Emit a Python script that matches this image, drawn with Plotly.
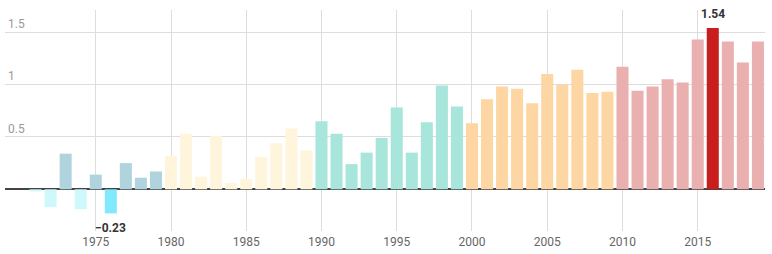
import plotly.graph_objects as go

years = list(range(1970, 2020))
values = [0.0, -0.02, -0.17, 0.34, -0.19, 0.14, -0.23, 0.25, 0.11, 0.17,
          0.32, 0.53, 0.12, 0.51, 0.06, 0.10, 0.31, 0.44, 0.58, 0.37,
          0.65, 0.53, 0.24, 0.35, 0.49, 0.78, 0.35, 0.64, 0.99, 0.79,
          0.63, 0.86, 0.98, 0.96, 0.82, 1.10, 1.00, 1.14, 0.92, 0.93,
          1.17, 0.94, 0.98, 1.05, 1.02, 1.43, 1.54, 1.41, 1.21, 1.41]
x_ticks = [1975, 1980, 1985, 1990, 1995, 2000, 2005, 2010, 2015]
y_ticks = [0.5, 1, 1.5]
y_tick_labels = ["0.5", "1", "1.5"]

vmax = max(values)
vmin = min(values)

def color_for(year, v):
    if v == vmax:
        return "#c81e1e"
    if v == vmin:
        return "#80eafc"
    d = (year // 10) * 10
    if d == 1970:
        return "#b0d4de" if v >= 0 else "#cff8fc"
    return {1980: "#fff5dc", 1990: "#a8e6dc", 2000: "#fdd6a4", 2010: "#eab0b0"}[d]

colors = [color_for(y, v) for y, v in zip(years, values)]

fig = go.Figure(go.Bar(x=years, y=values, marker=dict(color=colors, line=dict(width=0)),
                       width=0.8, hoverinfo="x+y"))

imax = values.index(vmax)
imin = values.index(vmin)
fig.add_annotation(x=years[imax], y=vmax, text=f"{vmax:.2f}", showarrow=False,
                   yanchor="bottom", yshift=5, font=dict(family="Roboto", size=12, color="#333333", weight="bold"))
fig.add_annotation(x=years[imin], y=vmin, text=f"\u2212{abs(vmin):.2f}", showarrow=False,
                   yanchor="top", yshift=-6, font=dict(family="Roboto", size=12, color="#333333", weight="bold"))

fig.update_layout(
    width=772, height=254,
    margin=dict(l=5, r=7, t=10, b=23),
    plot_bgcolor="white", paper_bgcolor="white",
    showlegend=False,
    bargap=0.2,
    font=dict(family="Roboto"),
    xaxis=dict(range=[1968.97, 2019.47], tickvals=x_ticks, showgrid=True, gridcolor="#dddddd",
               gridwidth=1, zeroline=False, showline=False, ticks="", ticklabelstandoff=2,
               tickfont=dict(family="Roboto", size=12, color="#666666")),
    yaxis=dict(range=[-0.398, 1.711], tickvals=y_ticks, ticktext=y_tick_labels, showgrid=True,
               gridcolor="#dddddd", gridwidth=1, zeroline=True, zerolinecolor="#444444",
               zerolinewidth=1.5, ticklabelposition="inside top", showline=False, ticks="",
               tickfont=dict(family="Roboto", size=12, color="#999999")),
)

fig.write_html("out.html")
